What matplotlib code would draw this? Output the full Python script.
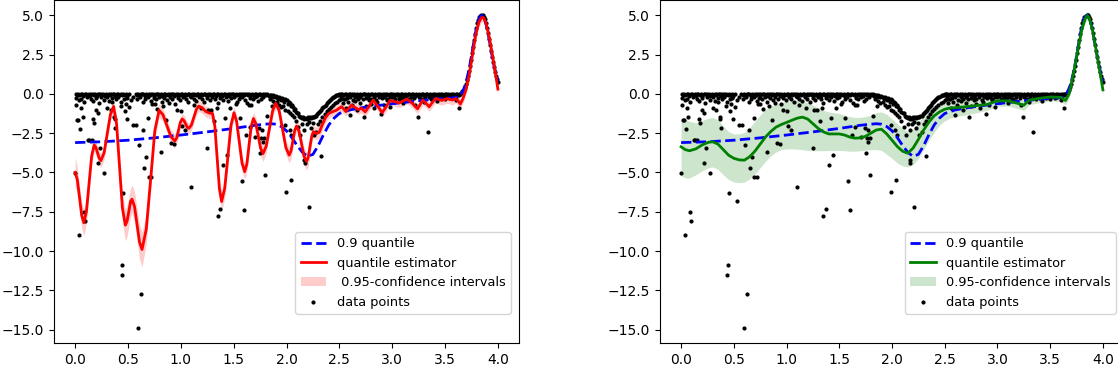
import numpy as np
import matplotlib
matplotlib.use('Agg')
import matplotlib.pyplot as plt

# 0.9 quantile (blue dashed)
q_x = [0.0, 0.25, 0.5, 0.75, 1.0, 1.25, 1.5, 1.7, 1.8, 1.85, 1.9, 1.95, 2.0, 2.05,
       2.1, 2.15, 2.2, 2.25, 2.3, 2.35, 2.4, 2.45, 2.5, 2.6, 2.7, 2.8, 3.0, 3.2, 3.4,
       3.6, 3.63, 3.65, 3.67, 3.69, 3.71, 3.73, 3.75, 3.77, 3.79, 3.81, 3.83, 3.85,
       3.87, 3.89, 3.91, 3.93, 3.95, 3.97, 3.99, 4.0]
q_y = [-3.1, -3.05, -2.95, -2.8, -2.62, -2.42, -2.2, -2.0, -1.93, -1.9, -1.93, -2.08,
       -2.35, -2.78, -3.28, -3.72, -3.98, -3.85, -3.3, -2.6, -1.98, -1.55, -1.25,
       -1.02, -0.9, -0.8, -0.63, -0.48, -0.34, -0.24, -0.2, -0.05, 0.2, 0.55, 1.05,
       1.65, 2.4, 3.2, 3.95, 4.55, 4.9, 5.0, 4.85, 4.4, 3.75, 3.0, 2.25, 1.6, 1.05, 0.8]

# left panel estimator: (x, y, ci half width)
red_est = [
    (0.000, -5.00, 0.95), (0.021, -5.47, 0.8), (0.041, -6.60, 0.75), (0.062, -7.73, 0.8), (0.082, -8.20, 0.85),
    (0.107, -7.48, 0.75), (0.131, -5.73, 0.6), (0.156, -3.97, 0.5), (0.180, -3.25, 0.45),
    (0.196, -3.40, 0.45), (0.212, -3.75, 0.45), (0.228, -4.10, 0.45), (0.244, -4.25, 0.45),
    (0.274, -3.75, 0.45), (0.304, -2.53, 0.45), (0.334, -1.30, 0.4), (0.364, -0.80, 0.4),
    (0.392, -1.90, 0.5), (0.420, -4.58, 0.7), (0.447, -7.25, 0.9), (0.475, -8.35, 1.0),
    (0.491, -8.11, 1.0), (0.507, -7.53, 0.95), (0.522, -6.94, 0.9), (0.538, -6.70, 0.9),
    (0.562, -7.17, 0.95), (0.586, -8.30, 1.0), (0.609, -9.43, 1.1), (0.633, -9.90, 1.1),
    (0.673, -8.61, 0.95), (0.714, -5.48, 0.7), (0.754, -2.34, 0.5), (0.794, -1.05, 0.45),
    (0.831, -1.33, 0.4), (0.869, -2.03, 0.4), (0.906, -2.72, 0.4), (0.943, -3.00, 0.45),
    (0.961, -2.80, 0.4), (0.978, -2.30, 0.4), (0.996, -1.80, 0.35), (1.013, -1.60, 0.35),
    (1.029, -1.69, 0.35), (1.045, -1.90, 0.35), (1.060, -2.11, 0.35), (1.076, -2.20, 0.35),
    (1.100, -1.99, 0.35), (1.123, -1.49, 0.35), (1.147, -0.99, 0.35), (1.170, -0.78, 0.35),
    (1.200, -0.88, 0.35), (1.235, -1.12, 0.35), (1.270, -1.22, 0.35), (1.300, -1.25, 0.35),
    (1.322, -2.07, 0.4), (1.343, -4.05, 0.5), (1.365, -6.03, 0.6), (1.386, -6.85, 0.65),
    (1.415, -6.03, 0.6), (1.445, -4.03, 0.5), (1.474, -2.02, 0.4), (1.503, -1.20, 0.4),
    (1.528, -1.75, 0.4), (1.554, -3.08, 0.45), (1.579, -4.40, 0.5), (1.604, -4.95, 0.5),
    (1.625, -4.46, 0.5), (1.646, -3.26, 0.45), (1.666, -2.06, 0.4), (1.687, -1.57, 0.4),
    (1.710, -1.90, 0.4), (1.733, -2.69, 0.45), (1.755, -3.47, 0.5), (1.778, -3.80, 0.5),
    (1.808, -3.33, 0.45), (1.839, -2.20, 0.4), (1.869, -1.07, 0.35), (1.899, -0.60, 0.35),
    (1.931, -1.08, 0.35), (1.962, -2.25, 0.4), (1.994, -3.42, 0.45), (2.025, -3.90, 0.5),
    (2.043, -3.63, 0.5), (2.060, -2.98, 0.45), (2.078, -2.32, 0.4), (2.095, -2.05, 0.4),
    (2.119, -2.39, 0.45), (2.143, -3.20, 0.5), (2.166, -3.98, 0.55), (2.190, -4.30, 0.55),
    (2.206, -4.03, 0.55), (2.223, -3.35, 0.5), (2.239, -2.68, 0.45), (2.255, -2.40, 0.4),
    (2.280, -2.52, 0.4), (2.310, -2.45, 0.4), (2.340, -1.95, 0.35), (2.370, -1.50, 0.35),
    (2.400, -1.25, 0.3), (2.430, -1.15, 0.3), (2.470, -1.05, 0.3), (2.520, -0.82, 0.3),
    (2.540, -0.95, 0.3), (2.560, -1.12, 0.3), (2.585, -0.95, 0.3), (2.615, -0.72, 0.3),
    (2.645, -0.85, 0.3), (2.680, -1.00, 0.3), (2.710, -0.92, 0.3), (2.745, -1.15, 0.3),
    (2.780, -0.80, 0.3), (2.820, -0.40, 0.3), (2.860, -0.75, 0.3), (2.905, -1.20, 0.3),
    (2.940, -0.85, 0.3), (2.980, -0.42, 0.3), (3.025, -0.50, 0.3), (3.070, -0.58, 0.3),
    (3.105, -0.45, 0.3), (3.140, -0.33, 0.3), (3.190, -0.60, 0.3), (3.240, -0.95, 0.3),
    (3.265, -0.68, 0.3), (3.290, -0.40, 0.3), (3.320, -0.60, 0.3), (3.350, -0.82, 0.3),
    (3.380, -0.55, 0.3), (3.410, -0.30, 0.3), (3.440, -0.36, 0.3), (3.470, -0.42, 0.3),
    (3.520, -0.30, 0.3), (3.570, -0.40, 0.3), (3.600, -0.30, 0.3), (3.625, -0.45, 0.3),
    (3.645, -0.65, 0.3), (3.670, -0.30, 0.3), (3.700, 0.30, 0.3), (3.730, 1.25, 0.3),
    (3.760, 2.50, 0.3), (3.790, 3.75, 0.3), (3.820, 4.55, 0.3), (3.845, 4.85, 0.3),
    (3.865, 4.85, 0.3), (3.890, 4.45, 0.3), (3.920, 3.55, 0.3), (3.950, 2.40, 0.3),
    (3.980, 1.20, 0.35), (4.000, 0.30, 0.4),
]

# right panel estimator: (x, y, ci low, ci high)
green_est = [
    (0.00, -3.37, -5.20, -1.55), (0.04, -3.55, -5.35, -1.62), (0.08, -3.62, -5.35, -1.75),
    (0.14, -3.50, -5.15, -1.85), (0.20, -3.25, -4.90, -1.70), (0.26, -3.08, -4.70, -1.55),
    (0.30, -3.05, -4.65, -1.50), (0.35, -3.20, -4.80, -1.65), (0.40, -3.55, -5.15, -2.05),
    (0.45, -3.90, -5.45, -2.40), (0.50, -4.10, -5.60, -2.55), (0.55, -4.20, -5.65, -2.55),
    (0.60, -4.22, -5.62, -2.45), (0.65, -4.00, -5.40, -2.15), (0.70, -3.65, -5.10, -1.75),
    (0.75, -3.20, -4.70, -1.35), (0.80, -2.75, -4.30, -1.00), (0.85, -2.40, -3.95, -0.80),
    (0.90, -2.12, -3.70, -0.65), (0.95, -1.95, -3.55, -0.55), (1.00, -1.82, -3.50, -0.50),
    (1.05, -1.68, -3.50, -0.45), (1.10, -1.55, -3.52, -0.42), (1.15, -1.48, -3.55, -0.45),
    (1.20, -1.60, -3.60, -0.55), (1.25, -1.90, -3.62, -0.72), (1.30, -2.20, -3.62, -0.90),
    (1.35, -2.42, -3.62, -1.05), (1.40, -2.55, -3.60, -1.15), (1.45, -2.55, -3.60, -1.20),
    (1.50, -2.55, -3.60, -1.25), (1.55, -2.62, -3.62, -1.35), (1.60, -2.75, -3.65, -1.45),
    (1.65, -2.82, -3.65, -1.50), (1.70, -2.80, -3.62, -1.50), (1.75, -2.70, -3.58, -1.45),
    (1.80, -2.50, -3.55, -1.35), (1.85, -2.30, -3.55, -1.20), (1.90, -2.25, -3.60, -1.15),
    (1.95, -2.55, -3.85, -1.30), (2.00, -2.95, -4.10, -1.60), (2.05, -3.35, -4.40, -1.90),
    (2.10, -3.65, -4.58, -2.20), (2.15, -3.78, -4.65, -2.40), (2.20, -3.45, -4.50, -2.25),
    (2.25, -2.90, -4.10, -1.85), (2.30, -2.30, -3.55, -1.35), (2.35, -1.80, -2.95, -0.95),
    (2.40, -1.40, -2.45, -0.70), (2.45, -1.15, -2.00, -0.55), (2.50, -0.98, -1.72, -0.42),
    (2.55, -0.90, -1.55, -0.38), (2.60, -0.88, -1.45, -0.35), (2.70, -0.82, -1.35, -0.30),
    (2.80, -0.75, -1.20, -0.30), (2.90, -0.68, -1.05, -0.28), (3.00, -0.45, -0.80, -0.12),
    (3.10, -0.45, -0.78, -0.12), (3.20, -0.62, -0.95, -0.30), (3.25, -0.72, -1.05, -0.40),
    (3.30, -0.40, -0.70, -0.10), (3.40, -0.28, -0.55, -0.02), (3.50, -0.20, -0.45, 0.05),
    (3.60, -0.22, -0.48, 0.02), (3.645, -0.42, -0.70, -0.15), (3.68, 0.00, -0.30, 0.30),
    (3.72, 1.25, 0.95, 1.55), (3.76, 2.70, 2.40, 3.00), (3.80, 4.10, 3.80, 4.40),
    (3.83, 4.75, 4.45, 5.05), (3.85, 4.98, 4.68, 5.25), (3.87, 4.85, 4.55, 5.15),
    (3.90, 4.10, 3.80, 4.40), (3.93, 3.00, 2.70, 3.30), (3.96, 1.85, 1.55, 2.15),
    (4.00, 0.25, -0.10, 0.60),
]

# data points
band_left = [
    (0.004, -0.02), (0.016, -0.05), (0.027, 0.0), (0.041, -0.09), (0.052, -0.01), (0.066, -0.04), (0.078, -0.12),
    (0.090, 0.0), (0.103, -0.03), (0.114, -0.07), (0.128, -0.01), (0.139, -0.15), (0.152, -0.02), (0.165, 0.0),
    (0.176, -0.06), (0.190, -0.03), (0.203, -0.11), (0.215, -0.01), (0.228, -0.04), (0.241, 0.0), (0.253, -0.08),
    (0.266, -0.02), (0.278, -0.13), (0.290, -0.01), (0.304, -0.05), (0.317, 0.0), (0.329, -0.09), (0.341, -0.02),
    (0.355, -0.04), (0.368, -0.01), (0.380, -0.16), (0.392, -0.03), (0.405, 0.0), (0.418, -0.07), (0.430, -0.02),
    (0.443, -0.10), (0.456, -0.01), (0.468, -0.05), (0.480, 0.0), (0.493, -0.12), (0.507, -0.03), (0.572, -0.02),
    (0.583, -0.06), (0.596, 0.0), (0.608, -0.09), (0.621, -0.02), (0.634, -0.04), (0.646, -0.01), (0.659, -0.14),
    (0.672, 0.0), (0.685, -0.05), (0.697, -0.02), (0.710, -0.08), (0.722, -0.01), (0.735, -0.03), (0.748, -0.11),
    (0.761, 0.0), (0.773, -0.04), (0.786, -0.02), (0.799, -0.07), (0.811, -0.01), (0.824, -0.13), (0.837, -0.03),
    (0.849, 0.0), (0.862, -0.06), (0.875, -0.02), (0.887, -0.09), (0.900, -0.01), (0.913, -0.04), (0.925, 0.0),
    (0.938, -0.15), (0.951, -0.02), (0.963, -0.05), (0.976, -0.01), (0.989, -0.08), (1.001, 0.0), (1.014, -0.03),
    (1.027, -0.11), (1.039, -0.02), (1.052, -0.06), (1.065, 0.0), (1.077, -0.04), (1.090, -0.12), (1.103, -0.01),
    (1.115, -0.05), (1.128, -0.02), (1.141, -0.09), (1.153, 0.0), (1.166, -0.03), (1.179, -0.14), (1.191, -0.01),
    (1.204, -0.06), (1.217, -0.02), (1.229, 0.0), (1.242, -0.10), (1.255, -0.03), (1.267, -0.05), (1.280, -0.01),
    (1.293, -0.08), (1.305, -0.02), (1.318, 0.0), (1.331, -0.13), (1.343, -0.04), (1.356, -0.01), (1.369, -0.07),
    (1.381, -0.02), (1.394, -0.11), (1.407, 0.0), (1.419, -0.03), (1.432, -0.06), (1.445, -0.01), (1.457, -0.15),
    (1.470, -0.02), (1.483, -0.04), (1.495, 0.0), (1.508, -0.09), (1.521, -0.03), (1.533, -0.05), (1.546, -0.01),
    (1.559, -0.12), (1.571, -0.02), (1.584, 0.0), (1.597, -0.07), (1.609, -0.04), (1.622, -0.01), (1.635, -0.10),
    (1.647, -0.02), (1.660, -0.05), (1.673, 0.0), (1.685, -0.08), (1.698, -0.03), (1.711, -0.01), (1.723, -0.12),
    (1.736, -0.04), (1.749, -0.02), (1.761, -0.06), (1.774, -0.03), (1.787, -0.09),
]

band_mid = [
    (0.012, -0.25), (0.035, -0.42), (0.058, -0.3), (0.085, -0.55), (0.11, -0.2), (0.147, -0.33), (0.171, -0.48),
    (0.197, -0.27), (0.222, -0.6), (0.247, -0.22), (0.272, -0.38), (0.298, -0.18), (0.323, -0.45), (0.35, -0.28),
    (0.386, -0.35), (0.41, -0.21), (0.437, -0.5), (0.462, -0.3), (0.487, -0.26), (0.53, -0.4), (0.55, -0.18),
    (0.59, -0.32), (0.615, -0.22), (0.64, -0.55), (0.665, -0.3), (0.69, -0.2), (0.716, -0.45), (0.742, -0.27),
    (0.767, -0.35), (0.793, -0.2), (0.818, -0.5), (0.843, -0.25), (0.868, -0.38), (0.894, -0.2), (0.92, -0.3),
    (0.945, -0.62), (0.97, -0.24), (0.995, -0.4), (1.02, -0.2), (1.046, -0.33), (1.071, -0.55), (1.096, -0.22),
    (1.122, -0.3), (1.147, -0.45), (1.172, -0.2), (1.198, -0.35), (1.223, -0.5), (1.248, -0.25), (1.274, -0.4),
    (1.299, -0.2), (1.325, -0.3), (1.35, -0.58), (1.375, -0.24), (1.4, -0.36), (1.426, -0.2), (1.451, -0.45),
    (1.476, -0.28), (1.502, -0.22), (1.527, -0.5), (1.552, -0.3), (1.578, -0.2), (1.603, -0.4), (1.628, -0.6),
    (1.654, -0.25), (1.679, -0.35), (1.704, -0.2), (1.73, -0.48), (1.755, -0.3), (1.78, -0.22),
]

low_pts = [
    (0.003, -5.04), (0.04, -8.96), (0.08, -7.5), (0.095, -8.1), (0.01, -0.74), (0.02, -1.69), (0.03, -1.69),
    (0.05, -2.22), (0.06, -0.87), (0.07, -1.48), (0.12, -2.94), (0.135, -2.94), (0.155, -2.94), (0.17, -1.57),
    (0.18, -1.84), (0.20, -1.04), (0.22, -1.19), (0.215, -4.41), (0.237, -3.47), (0.27, -5.04), (0.30, -0.93),
    (0.335, -1.04), (0.35, -0.53), (0.367, -1.5), (0.373, -1.63), (0.38, -2.16), (0.45, -6.33), (0.446, -10.91),
    (0.44, -11.55), (0.43, -0.8), (0.468, -1.06), (0.478, -0.66), (0.494, -1.63), (0.51, -0.85), (0.53, -6.82),
    (0.547, -1.97), (0.576, -1.97), (0.598, -14.87), (0.607, -3.24), (0.627, -12.75), (0.646, -2.33),
    (0.655, -4.70), (0.674, -4.03), (0.69, -1.53), (0.696, -5.28), (0.718, -5.28), (0.725, -0.66),
    (0.753, -0.66), (0.772, -0.97), (0.81, -3.69), (0.83, -0.78), (0.86, -1.67), (0.886, -0.57), (0.908, -3.11),
    (0.94, -3.2), (0.965, -1.04), (1.003, -1.06), (1.01, -2.06), (1.044, -2.31), (1.095, -5.95), (1.12, -0.74),
    (1.187, -0.93), (1.247, -3.47), (1.256, -1.04), (1.29, -1.04), (1.313, -1.72), (1.34, -0.87), (1.35, -7.75),
    (1.373, -7.33), (1.40, -4.51), (1.418, -1.55), (1.44, -3.92), (1.47, -0.87), (1.52, -0.62), (1.557, -1.53),
    (1.58, -5.57), (1.60, -7.39), (1.617, -2.63), (1.65, -2.1), (1.646, -0.72), (1.665, -0.68), (1.705, -2.73),
    (1.74, -2.16), (1.76, -2.84), (1.75, -3.77), (1.77, -2.29), (1.775, -3.07), (1.794, -5.19), (1.79, -2.78),
    (1.82, -1.38), (1.86, -0.78), (1.994, -6.27), (2.04, -5.49), (2.21, -7.2), (2.326, -3.94), (2.03, -2.31),
    (2.047, -2.63), (2.17, -4.2), (2.175, -4.4), (1.99, -1.98),
]

dip = [
    (1.80, -0.03), (1.81, -0.08), (1.82, -0.02), (1.83, -0.12), (1.84, -0.05), (1.85, -0.1), (1.86, -0.18),
    (1.87, -0.08), (1.88, -0.14), (1.89, -0.22), (1.90, -0.12), (1.91, -0.18), (1.92, -0.3), (1.93, -0.2),
    (1.94, -0.25), (1.95, -0.4), (1.96, -0.28), (1.97, -0.32), (1.98, -0.5), (1.99, -0.35), (2.00, -0.42),
    (2.01, -0.62), (2.02, -0.5), (2.03, -0.58), (2.04, -0.8), (2.05, -0.7), (2.06, -0.85), (2.07, -1.05),
    (2.08, -0.95), (2.09, -1.15), (2.10, -1.25), (2.11, -1.2), (2.12, -1.4), (2.13, -1.45), (2.14, -1.5),
    (2.15, -1.55), (2.16, -1.5), (2.17, -1.6), (2.18, -1.52), (2.19, -1.58), (2.20, -1.5), (2.21, -1.55),
    (2.22, -1.48), (2.23, -1.55), (2.24, -1.5), (2.25, -1.45), (2.26, -1.5), (2.27, -1.4), (2.28, -1.38),
    (2.29, -1.3), (2.30, -1.25), (2.31, -1.15), (2.32, -1.1), (2.33, -1.0), (2.34, -0.92), (2.35, -0.85),
    (2.36, -0.78), (2.37, -0.7), (2.38, -0.6), (2.39, -0.55), (2.40, -0.45), (2.41, -0.4), (2.42, -0.32),
    (2.43, -0.28), (2.44, -0.22), (2.45, -0.18), (2.46, -0.14), (2.47, -0.1), (2.48, -0.08), (2.49, -0.05),
    (2.50, -0.03),
    (1.84, -0.35), (1.87, -0.45), (1.89, -0.6), (1.91, -0.55), (1.93, -0.7), (1.95, -0.85), (1.97, -0.75),
    (1.99, -1.0), (2.01, -1.1), (2.03, -1.25), (2.05, -1.35), (2.07, -1.5), (2.09, -1.75), (2.11, -2.1),
    (2.13, -2.62), (2.15, -1.9), (2.17, -2.3), (2.19, -1.95), (2.21, -1.8), (2.23, -2.2), (2.25, -1.85),
    (2.26, -2.6), (2.28, -2.4), (2.30, -1.95), (2.32, -1.7), (2.34, -1.45), (2.36, -1.3), (2.38, -1.1),
    (2.40, -0.95), (2.42, -0.85), (2.44, -0.7), (2.46, -0.6), (2.48, -0.5), (2.50, -0.42), (2.52, -0.35),
    (2.55, -0.3),
]

band_right = [
    (2.512, -0.02), (2.525, 0.0), (2.538, -0.06), (2.551, -0.01), (2.564, -0.03), (2.577, -0.1), (2.590, 0.0),
    (2.603, -0.04), (2.616, -0.02), (2.629, -0.08), (2.642, -0.01), (2.655, -0.12), (2.668, 0.0), (2.681, -0.05),
    (2.694, -0.02), (2.707, -0.09), (2.720, -0.01), (2.733, -0.04), (2.746, 0.0), (2.759, -0.14), (2.772, -0.02),
    (2.785, -0.06), (2.798, -0.01), (2.811, -0.03), (2.824, -0.1), (2.837, 0.0), (2.850, -0.05), (2.863, -0.02),
    (2.876, -0.08), (2.889, -0.01), (2.902, -0.12), (2.915, -0.03), (2.928, 0.0), (2.941, -0.06), (2.954, -0.02),
    (2.967, -0.09), (2.980, -0.01), (2.993, -0.04), (3.006, 0.0), (3.019, -0.13), (3.032, -0.02), (3.045, -0.05),
    (3.058, -0.01), (3.071, -0.08), (3.084, -0.03), (3.097, 0.0), (3.110, -0.11), (3.123, -0.02), (3.136, -0.06),
    (3.149, -0.01), (3.162, -0.04), (3.175, -0.09), (3.188, 0.0), (3.201, -0.03), (3.214, -0.12), (3.227, -0.01),
    (3.240, -0.05), (3.253, -0.02), (3.266, -0.08), (3.279, 0.0), (3.292, -0.04), (3.305, -0.1), (3.318, -0.01),
    (3.331, -0.03), (3.344, -0.07), (3.357, 0.0), (3.370, -0.12), (3.383, -0.02), (3.396, -0.05), (3.409, -0.01),
    (3.422, -0.09), (3.435, -0.03), (3.448, 0.0), (3.461, -0.06), (3.474, -0.02), (3.487, -0.11), (3.500, -0.01),
    (3.513, -0.04), (3.526, 0.0), (3.539, -0.08), (3.552, -0.02), (3.565, -0.05), (3.578, -0.01), (3.591, -0.1),
    (3.604, -0.03), (3.617, 0.0), (3.630, -0.06), (3.643, -0.02),
    (2.52, -0.2), (2.545, -0.35), (2.57, -0.25), (2.6, -0.18), (2.625, -0.4), (2.65, -0.22), (2.675, -0.3),
    (2.7, -0.2), (2.725, -0.35), (2.75, -0.25), (2.775, -0.18), (2.8, -0.3), (2.825, -0.22), (2.85, -0.4),
    (2.875, -0.2), (2.9, -0.28), (2.925, -0.18), (2.95, -0.32), (2.975, -0.22), (3.0, -0.2), (3.03, -0.3),
    (3.06, -0.18), (3.09, -0.25), (3.12, -0.2), (3.15, -0.35), (3.18, -0.18), (3.21, -0.25), (3.25, -0.2),
    (3.28, -0.3), (3.31, -0.18), (3.35, -0.22), (3.4, -0.25), (3.44, -0.18), (3.48, -0.2), (3.52, -0.15),
    (3.56, -0.22), (3.6, -0.18),
]

right_low = [
    (2.53, -0.6), (2.56, -0.9), (2.58, -0.5), (2.6, -1.36), (2.62, -0.7), (2.65, -0.45), (2.67, -1.0),
    (2.7, -0.6), (2.73, -1.5), (2.75, -0.8), (2.78, -0.4), (2.8, -0.65), (2.83, -0.9), (2.86, -0.5),
    (2.89, -1.29), (2.92, -0.7), (2.95, -0.4), (2.98, -0.85), (3.02, -0.5), (3.06, -0.35), (3.1, -0.6),
    (3.14, -0.3), (3.18, -0.45), (3.22, -0.7), (3.24, -1.5), (3.27, -0.35), (3.3, -0.55), (3.34, -2.42),
    (3.37, -0.3), (3.42, -0.45), (3.46, -0.28), (3.5, -0.35), (3.55, -0.25), (3.6, -0.4), (3.63, -0.93),
]

peak = [
    (3.645, 0.02), (3.655, 0.08), (3.665, 0.16), (3.675, 0.27), (3.685, 0.42), (3.695, 0.6), (3.705, 0.85),
    (3.715, 1.12), (3.725, 1.45), (3.735, 1.8), (3.745, 2.18), (3.755, 2.58), (3.765, 3.0), (3.775, 3.42),
    (3.785, 3.82), (3.795, 4.18), (3.805, 4.48), (3.815, 4.72), (3.825, 4.88), (3.835, 4.98), (3.845, 5.02),
    (3.855, 5.0), (3.865, 4.92), (3.875, 4.75), (3.885, 4.5), (3.895, 4.2), (3.905, 3.85), (3.915, 3.48),
    (3.925, 3.1), (3.935, 2.72), (3.945, 2.36), (3.955, 2.02), (3.965, 1.7), (3.975, 1.4), (3.985, 1.15),
    (3.995, 0.92), (4.0, 0.75),
]

pts = np.array(band_left + band_mid + low_pts + dip + band_right + right_low + peak)

red = np.array(red_est)
green = np.array(green_est)

fig = plt.figure(figsize=(11.18, 3.75), dpi=100)
ax1 = fig.add_axes([54 / 1118, 32 / 375, 465 / 1118, 343 / 375])
ax2 = fig.add_axes([660 / 1118, 32 / 375, 464 / 1118, 343 / 375])


def draw(ax, ex, ey, lo, hi, color, ci_label):
    ax.plot(q_x, q_y, 'b--', lw=2, label='0.9 quantile')
    ax.plot(ex, ey, color=color, lw=2, label='quantile estimator')
    ax.fill_between(ex, lo, hi, color=color, alpha=0.2, linewidth=0, label=ci_label)
    ax.scatter(pts[:, 0], pts[:, 1], s=4, c='k', label='data points')
    ax.set_xlim(-0.2, 4.2)
    ax.set_ylim(-15.85, 5.97)
    ax.legend(loc='lower right', bbox_to_anchor=(0.982, 0.085), borderaxespad=0,
              fontsize=9.3)


draw(ax1, red[:, 0], red[:, 1], red[:, 1] - red[:, 2], red[:, 1] + red[:, 2], 'r',
     ' 0.95-confidence intervals')
draw(ax2, green[:, 0], green[:, 1], green[:, 2], green[:, 3], 'g',
     '0.95-confidence intervals')

fig.savefig('out.png', dpi=100)
